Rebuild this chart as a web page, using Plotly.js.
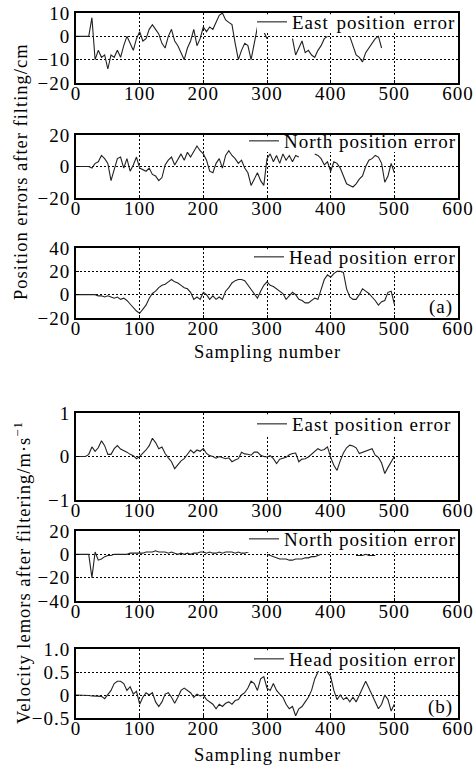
<!DOCTYPE html>
<html>
<head>
<meta charset="utf-8">
<script src="https://cdn.plot.ly/plotly-3.0.1.min.js"></script>
<style>
html,body{margin:0;padding:0;background:#fff;}
#chart{width:476px;height:766px;}
svg text{letter-spacing:1px;}
svg text.legendtext{letter-spacing:1px;word-spacing:2px;}
</style>
</head>
<body>
<div id="chart"></div>
<script>
// Sampling numbers (x)
const sampleIdx = [0,5,10,15,20,25,30,35,40,45,50,55,60,65,70,75,80,85,90,95,
  100,105,110,115,120,125,130,135,140,145,150,155,160,165,170,175,180,185,190,195,
  200,205,210,215,220,225,230,235,240,245,250,255,260,265,270,275,280,285,290,295,
  300,305,310,315,320,325,330,335,340,345,350,355,360,365,370,375,380,385,390,395,
  400,405,410,415,420,425,430,435,440,445,450,455,460,465,470,475,480,485,490,495,500];

// (a) Position errors after filtering / cm
const eastPos = [0,0,0,0,0,8,-10,-6,-9,-8,-14,-8,-9,-6,-9,-4,0,-3,-6,-1,
  2,-2,-1,3,5,3,1,-3,-5,0,3,-2,-4,-7,-10,-5,-2,3,-4,-1,
  4,2,4,3,6,9,10,7,6,5,-3,-10,-6,-3,-4,-10,-3,4,3,2,
  -1,null,null,null,null,null,null,null,-1,-8,-5,-2,-7,-6,-8,-9,-6,-4,-1,0,
  null,null,null,null,null,null,0,-4,-8,-9,-11,-7,-5,-3,-1,0,-5,null,null,null,null];
const northPos = [0,0,0,0,0,-1,2,3,7,5,2,-9,-2,5,6,-1,5,-3,1,6,
  -1,-2,-3,-1,-5,-6,-9,-7,1,4,6,1,5,8,4,9,6,10,13,10,
  8,4,-3,-4,2,5,-1,7,10,7,5,2,4,-1,-4,-12,-8,-4,-9,-12,
  5,8,3,7,2,8,4,7,3,7,6,null,null,null,null,8,7,5,1,3,
  -3,3,2,-1,-6,-11,-12,-13,-11,-8,-6,0,4,5,7,6,2,-10,-6,2,-4];
const headPos = [0,0,0,0,0,0,0,-1,-1,-2,-1,-2,-3,-2,-4,-3,-5,-8,-11,-14,
  -16,-12,-9,-3,1,3,6,8,9,11,13,11,10,8,6,5,2,-4,-2,-4,
  2,0,-4,-1,-4,-2,-4,3,6,10,12,13,13,12,8,5,1,-3,3,8,
  11,8,7,5,3,1,-4,-1,2,0,-4,-5,-7,-7,-5,-3,-4,5,13,17,
  15,18,20,20,19,5,-2,-4,-4,0,5,3,1,-2,-5,-9,-6,-5,2,3,-8];

// (b) Velocity errors after filtering / m·s^-1
const eastVel = [0,0,0,0,0.05,0.22,0.12,0.2,0.36,0.25,0.05,0.05,0.18,0.25,0.17,0.14,0.1,0.05,0.02,-0.05,
  0,0.08,0.15,0.25,0.42,0.32,0.18,0.22,0.07,-0.03,-0.12,-0.28,-0.18,-0.1,-0.05,0.05,0.15,0.08,0.15,0.12,
  0.18,0.07,0.02,0,-0.04,0,-0.02,-0.05,-0.03,-0.12,-0.08,-0.05,0.1,0.06,0.05,0.03,0.1,0.1,0.03,0,
  -0.01,0.02,-0.05,-0.16,-0.06,-0.04,-0.02,0.04,0.07,0.08,-0.12,-0.06,-0.05,-0.01,0.05,0.1,0.18,0.14,0.16,0.22,
  -0.02,-0.2,-0.32,-0.1,0.08,0.2,0.26,0.24,0.2,0.07,0.1,0.12,0.15,0.18,0.03,-0.02,-0.15,-0.39,-0.25,-0.12,0];
const northVel = [0,0,0,0,0,-20,2,-5,-4,-2,-1,-1,0,0,0,0,0,1,1,1,
  1,1,2,2,2,3,2,2,2,1,2,1,0,1,0,1,0,1,1,2,
  2,1,2,1,1,2,1,2,2,2,1,2,1,1,2,3,null,null,null,null,
  0,-1,-2,-3,-4,-4,-4,-5,-5,-4,-4,-4,-3,-3,-2,-2,-1,0,null,null,
  null,null,null,null,null,null,null,null,-1,-1,-1,0,-1,-1,-1,null,null,null,null,null,null];
const headVel = [0,0,0,-0.01,-0.01,-0.02,-0.02,-0.03,-0.03,-0.08,0,0.1,0.25,0.3,0.3,0.25,0.1,0.18,0.02,0.08,
  -0.2,-0.05,0.05,0,0.05,-0.15,-0.25,-0.15,0.02,0.05,-0.05,-0.18,-0.05,0.1,0.15,0.1,0.05,-0.05,0.02,-0.02,
  0,-0.1,-0.15,-0.2,-0.3,-0.2,-0.25,-0.18,-0.15,-0.2,-0.12,-0.1,0,0.05,0.15,0.3,0.25,0.1,0.35,0.4,
  0.15,0.1,0.25,0.1,0.02,-0.05,-0.2,-0.3,-0.25,-0.45,-0.3,-0.25,-0.15,-0.05,0.1,0.35,0.5,0.65,0.65,0.5,
  0.4,0.1,-0.1,0,-0.1,-0.05,-0.15,-0.05,-0.15,0,0.15,0.3,0.15,0,-0.15,-0.3,-0.2,0,-0.1,-0.35,-0.2];

const seriesNames = ['East position error','North position error','Head position error',
                     'East position error','North position error','Head position error'];
const seriesData = [eastPos, northPos, headPos, eastVel, northVel, headVel];

// tick labels
const yTickVals = [[-20,-10,0,10],[-20,0,20],[-20,0,20,40],[-1,0,1],[-40,-20,0,20],[-0.5,0,0.5,1]];
const yTickText = [['\u221220','\u221210','0','10'],['\u221220','0','20'],['\u221220','0','20','40'],
                   ['\u22121','0','1'],['\u221240','\u221220','0','20'],['\u22120.5','0','0.5','1.0']];
const yRanges = [[-20,10],[-20,20],[-20,40],[-1,1],[-40,20],[-0.5,1]];
const xTickVals = [0,100,200,300,400,500,600];
const xTickText = ['0','100','200','300','400','500','600'];

const W = 476, H = 766;
const pxLeft = 76, pxRight = 458;
const pxTop = [13,135,248,413,531,649];
const pxBot = [83,198,318,500,601,718];
const legCenter = [23,142,258,425,540,660];
const legMaskStart = [257,244,251,257,244,251];
const legMaskDepth = [20,17,22,24,21,22];
const FONT = 'Liberation Serif, Times New Roman, serif';

const traces = [];
const layout = {
  width: W, height: H,
  margin: {l:0, r:0, t:0, b:0},
  paper_bgcolor: '#fff', plot_bgcolor: '#fff',
  font: {family: FONT, size: 19, color: '#000'},
  showlegend: true,
  annotations: [],
  shapes: []
};

for (let i = 0; i < 6; i++) {
  const n = i + 1;
  const sfx = n === 1 ? '' : String(n);
  const legKey = 'legend' + sfx;
  traces.push({
    x: sampleIdx, y: seriesData[i],
    xaxis: 'x' + sfx, yaxis: 'y' + sfx,
    type: 'scatter', mode: 'lines',
    line: {color: '#222', width: 1.1},
    name: seriesNames[i], legend: legKey, showlegend: true,
    connectgaps: false, hoverinfo: 'skip'
  });
  const yTop = 1 - pxTop[i] / H, yBot = 1 - pxBot[i] / H;
  const common = {
    showline: true, linecolor: '#000', linewidth: 2, mirror: true,
    showgrid: true, gridcolor: '#000', gridwidth: 1, griddash: '2px,2px',
    zeroline: false, ticks: 'inside', ticklen: 3, tickcolor: '#000',
    tickfont: {family: FONT, size: 19, color: '#000'}, fixedrange: true
  };
  layout['xaxis' + sfx] = Object.assign({}, common, {
    domain: [pxLeft/W, pxRight/W], range: [0, 600], anchor: 'y' + sfx,
    tickmode: 'array', tickvals: xTickVals, ticktext: xTickText,
    ticklabelstandoff: -8
  });
  layout['yaxis' + sfx] = Object.assign({}, common, {
    domain: [yBot, yTop], range: yRanges[i], anchor: 'x' + sfx,
    tickmode: 'array', tickvals: yTickVals[i], ticktext: yTickText[i]
  });
  layout[legKey] = {
    x: 461/W, xanchor: 'right', y: 1 - (legCenter[i] - 20)/H, yanchor: 'top',
    bgcolor: 'rgba(0,0,0,0)', borderwidth: 0, itemwidth: 30,
    font: {family: FONT, size: 19, color: '#000'},
    tracegroupgap: 0
  };
  // white background behind the legend entry (masks grid/lines as in the original)
  layout.shapes.push({
    type: 'rect', xref: 'paper', yref: 'paper', layer: 'above',
    x0: legMaskStart[i]/W, x1: (pxRight - 1.5)/W,
    y0: 1 - (pxTop[i] + legMaskDepth[i])/H, y1: 1 - (pxTop[i] + 1.2)/H,
    fillcolor: '#fff', line: {width: 0}
  });
}

// panel labels
layout.annotations.push({xref:'paper', yref:'paper', x:455/W, y:1-320/H, xanchor:'right', yanchor:'bottom',
  text:'(a)', showarrow:false, font:{family:FONT, size:19}});
layout.annotations.push({xref:'paper', yref:'paper', x:455/W, y:1-720/H, xanchor:'right', yanchor:'bottom',
  text:'(b)', showarrow:false, font:{family:FONT, size:19}});
// axis titles
layout.annotations.push({xref:'paper', yref:'paper', x:267/W, y:1-352/H, xanchor:'center', yanchor:'middle',
  text:'Sampling number', showarrow:false, font:{family:FONT, size:18.5}});
layout.annotations.push({xref:'paper', yref:'paper', x:267/W, y:1-755/H, xanchor:'center', yanchor:'middle',
  text:'Sampling number', showarrow:false, font:{family:FONT, size:18.5}});
layout.annotations.push({xref:'paper', yref:'paper', x:21/W, y:1-172/H, xanchor:'center', yanchor:'middle',
  textangle:-90, text:'Position errors after filting/cm', showarrow:false, font:{family:FONT, size:18.5}});
layout.annotations.push({xref:'paper', yref:'paper', x:22/W, y:1-573/H, xanchor:'center', yanchor:'middle',
  textangle:-90, text:'Velocity lemors after filtering/m\u00b7s<sup>\u22121</sup>', showarrow:false, font:{family:FONT, size:18.5}});

Plotly.newPlot('chart', traces, layout, {staticPlot: true, displayModeBar: false});
</script>
</body>
</html>
